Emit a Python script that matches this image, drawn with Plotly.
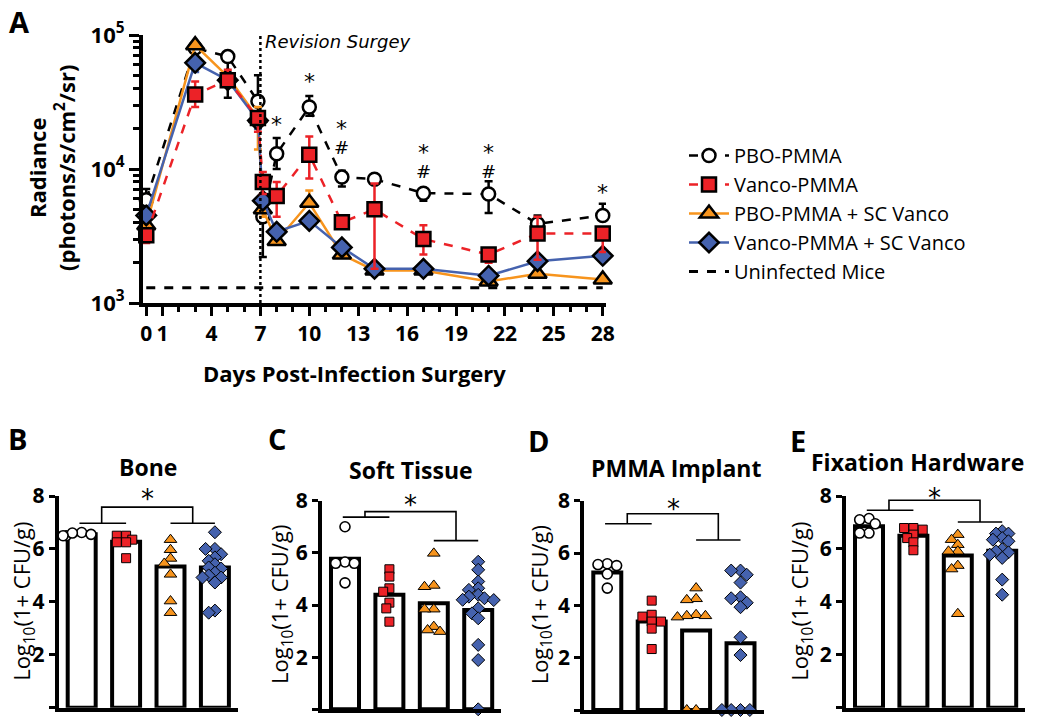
import plotly.graph_objects as go
import math

# ---------------- Panel A data ----------------
DAYS = [0, 3, 5, 6.85, 7.15, 8, 10, 12, 14, 17, 21, 24, 28]
X_TICKS = [0, 1, 4, 7, 10, 13, 16, 19, 22, 25, 28]

PBO_PMMA = [5.9e3, 8.0e4, 6.9e4, 3.2e4, 4.4e3, 1.3e4, 2.9e4, 8.7e3, 8.4e3, 6.6e3, 6.5e3, 3.9e3, 4.5e3]
PBO_PMMA_UP = [1.2e3, 0, 0, 1.8e4, 0, 4.0e3, 6.0e3, 1.0e3, 0.6e3, 0.5e3, 1.6e3, 0.6e3, 1.0e3]
PBO_PMMA_DN = [0, 0, 3.5e4, 0, 2.2e3, 3.0e3, 4.0e3, 1.3e3, 0, 0.8e3, 1.8e3, 0, 0.3e3]

VANCO_PMMA = [3.2e3, 3.6e4, 4.6e4, 2.4e4, 8.0e3, 6.3e3, 1.28e4, 4.0e3, 5.0e3, 3.0e3, 2.3e3, 3.3e3, 3.3e3]
VANCO_PMMA_UP = [0, 9e3, 9e3, 0, 1.5e3, 1.7e3, 4.7e3, 0, 2.8e3, 0.8e3, 0.2e3, 1.1e3, 0]
VANCO_PMMA_DN = [0.4e3, 7e3, 0, 5e3, 1.5e3, 1.9e3, 4.3e3, 0.4e3, 3.2e3, 0.7e3, 0.3e3, 1.2e3, 0.9e3]

PBO_SC = [3.8e3, 8.4e4, 4.9e4, 2.4e4, 5.0e3, 2.9e3, 5.6e3, 2.3e3, 1.75e3, 1.75e3, 1.45e3, 1.65e3, 1.5e3]
PBO_SC_UP = [0, 0, 0, 5e3, 0, 0, 1.3e3, 0, 0, 0, 0, 0, 0]
PBO_SC_DN = [0, 0, 0, 1.0e4, 0.6e3, 0, 0, 0, 0, 0, 0, 0, 0]

VANCO_SC = [4.5e3, 6.2e4, 4.6e4, 2.3e4, 5.8e3, 3.4e3, 4.1e3, 2.6e3, 1.8e3, 1.8e3, 1.6e3, 2.05e3, 2.25e3]
VANCO_SC_UP = [0.5e3, 0, 0, 0, 0, 0, 0, 0, 0, 0, 0, 0, 0]
VANCO_SC_DN = [0, 9e3, 0, 3e3, 0, 0, 0, 0, 0, 0, 0, 0, 0]

UNINFECTED_DAYS = [0, 28]
UNINFECTED_LEVEL = 1.3e3
REVISION_DAY = 7

# significance marks: (day, radiance, text)
SIG_MARKS = [(8, 2.3e4, "*"), (10, 4.8e4, "*"), (12, 2.15e4, "*"), (12, 1.45e4, "#"),
             (17, 1.42e4, "*"), (17, 9.6e3, "#"), (21, 1.42e4, "*"), (21, 9.6e3, "#"),
             (28, 7.2e3, "*")]

# ---------------- Panels B-E data ----------------
GROUPS = ["PBO-PMMA", "Vanco-PMMA", "PBO-PMMA + SC Vanco", "Vanco-PMMA + SC Vanco"]

B_BARS = [6.55, 6.27, 5.34, 5.30]
B_PBO = [6.62, 6.55, 6.5, 6.6, 6.5]
B_VANCO = [6.5, 6.35, 6.5, 6.25, 6.25, 5.65]
B_PBO_SC = [6.35, 5.97, 5.64, 5.45, 5.04, 4.03, 3.59]
B_VANCO_SC = [6.63, 6.0, 6.0, 5.8, 5.68, 5.55, 5.42, 5.3, 5.26, 5.1, 5.0, 4.92, 4.92, 4.73, 3.67, 3.59]

C_BARS = [5.77, 4.39, 4.07, 3.81]
C_PBO = [7.0, 5.65, 5.6, 5.6, 4.85]
C_VANCO = [5.37, 5.09, 4.64, 4.51, 4.09, 3.87, 3.36]
C_PBO_SC = [5.98, 4.75, 4.7, 3.84, 3.84, 3.17, 3.04, 2.98]
C_VANCO_SC = [5.66, 5.35, 4.9, 4.64, 4.58, 4.39, 4.32, 4.26, 4.2, 4.19, 3.87, 3.68, 3.49, 2.47, 1.89, 0.0]

D_BARS = [5.26, 3.38, 3.04, 2.55]
D_PBO = [5.59, 5.56, 5.52, 5.2, 4.66]
D_VANCO = [4.18, 3.64, 3.57, 3.38, 3.38, 3.11, 2.33]
D_PBO_SC = [4.66, 4.25, 4.21, 3.64, 3.6, 3.6, 3.55, 0.0, 0.0]
D_VANCO_SC = [5.33, 5.33, 5.17, 4.87, 4.31, 4.27, 4.1, 3.93, 2.78, 2.1, 0.0, 0.0, 0.0, 0.0]

E_BARS = [6.86, 6.5, 5.75, 5.93]
E_PBO = [7.15, 7.1, 6.95, 6.6, 6.6]
E_VANCO = [6.79, 6.79, 6.73, 6.54, 6.41, 6.25, 5.95]
E_PBO_SC = [6.54, 6.35, 6.16, 5.91, 5.91, 5.37, 5.24, 3.55]
E_VANCO_SC = [6.67, 6.58, 6.58, 6.41, 6.35, 6.29, 5.99, 5.91, 5.87, 5.78, 5.66, 4.84, 4.27]

# bracket heights: left group line, right group line, top line, star
B_BRACKET = [6.97, 6.97, 7.58, 8.1]
C_BRACKET = [7.37, 6.47, 7.58, 8.05]
D_BRACKET = [7.12, 6.5, 7.5, 7.93]
E_BRACKET = [7.46, 7.02, 7.84, 8.14]
Y_MAX = 8

# ---------------- styles ----------------
FONT = "Open Sans"
RED = "#EC2227"
ORANGE = "#F7941D"
BLUE = "#4562AE"
W, H = 1050, 718
STAR_SHIFT = -6  # the asterisk glyph sits high in its text box


def px_x(p):
    return p / W


def px_y(p):
    return 1 - p / H


def paper_note(x, y, text, size, angle=0, family=FONT):
    return dict(x=px_x(x), y=px_y(y), xref="paper", yref="paper", xanchor="center", yanchor="middle",
                text=text, showarrow=False, textangle=angle,
                font=dict(family=family, size=size, color="black"))


fig = go.Figure()

# ---- Panel A traces (draw order: black, orange, blue, red) ----
series = [
    ("PBO-PMMA", PBO_PMMA, PBO_PMMA_UP, PBO_PMMA_DN, "black", "dash",
     dict(symbol="circle", size=13, color="white", line=dict(color="black", width=2.5)), 1),
    ("PBO-PMMA + SC Vanco", PBO_SC, PBO_SC_UP, PBO_SC_DN, ORANGE, "solid",
     dict(symbol="triangle-up", size=16, color=ORANGE, line=dict(color="black", width=2.5)), 3),
    ("Vanco-PMMA + SC Vanco", VANCO_SC, VANCO_SC_UP, VANCO_SC_DN, BLUE, "solid",
     dict(symbol="diamond", size=15, color=BLUE, line=dict(color="black", width=2.5)), 4),
    ("Vanco-PMMA", VANCO_PMMA, VANCO_PMMA_UP, VANCO_PMMA_DN, RED, "dash",
     dict(symbol="square", size=14, color=RED, line=dict(color="black", width=2.5)), 2),
]
for name, vals, up, dn, col, dash, mk, rank in series:
    fig.add_trace(go.Scatter(
        x=DAYS, y=vals, name=name, mode="lines+markers", legendrank=rank,
        line=dict(color=col, width=2.5, dash=dash), marker=mk, cliponaxis=False,
        error_y=dict(type="data", symmetric=False, array=up, arrayminus=dn,
                     color=col, thickness=2.5, width=4),
        xaxis="x", yaxis="y"))

fig.add_trace(go.Scatter(
    x=UNINFECTED_DAYS, y=[UNINFECTED_LEVEL] * len(UNINFECTED_DAYS), name="Uninfected Mice",
    mode="lines", legendrank=5, line=dict(color="black", width=3, dash="dash"),
    xaxis="x", yaxis="y"))
fig.add_trace(go.Scatter(
    x=[REVISION_DAY, REVISION_DAY], y=[1e3, 1e5], mode="lines", showlegend=False,
    line=dict(color="black", width=2.5, dash="dot"), xaxis="x", yaxis="y"))

annotations = []
for d, v, t in SIG_MARKS:
    annotations.append(dict(x=d, y=math.log10(v), xref="x", yref="y", text=t, showarrow=False,
                            xanchor="center", yanchor="middle",
                            yshift=STAR_SHIFT + 2 if t == "*" else 0,
                            font=dict(family="DejaVu Sans", size=22 if t == "*" else 18, color="black")))
annotations.append(dict(x=REVISION_DAY + 0.15, y=math.log10(9.0e4), xref="x", yref="y",
                        text="<i>Revision Surgey</i>", showarrow=False, xanchor="left", yanchor="middle",
                        font=dict(family="DejaVu Sans", size=18, color="black")))

AX_COMMON = dict(showgrid=False, zeroline=False, automargin=False, linecolor="black", tickcolor="black")

# ---- Panel A axes ----
fig.update_layout(
    xaxis=dict(domain=[px_x(143), px_x(606)], anchor="y", range=[-0.2, 28.2],
               tickvals=X_TICKS, ticktext=[str(t) for t in X_TICKS],
               ticks="outside", ticklen=9, tickwidth=3,
               showline=True, linewidth=4,
               tickfont=dict(family=FONT, size=21, color="black", weight="bold"),
               minor=dict(dtick=1, tick0=0, ticks="outside", ticklen=5, tickwidth=3, tickcolor="black"),
               **AX_COMMON),
    yaxis=dict(domain=[px_y(303), px_y(35)], anchor="x", type="log", range=[3, 5],
               tickvals=[1e3, 1e4, 1e5], ticktext=["10<sup>3</sup>", "10<sup>4</sup>", "10<sup>5</sup>"],
               ticks="outside", ticklen=10, tickwidth=3,
               showline=True, linewidth=4,
               tickfont=dict(family=FONT, size=22, color="black", weight="bold"),
               minor=dict(tickvals=[k * 10 ** e for e in (3, 4) for k in range(2, 10)],
                          ticks="outside", ticklen=6, tickwidth=2.5, tickcolor="black"),
               **AX_COMMON),
)
annotations.append(paper_note(51, 168, "<b>Radiance<br>(photons/s/cm<sup>2</sup>/sr)</b>", 22, -90))
annotations.append(paper_note(354, 373, "<b>Days Post-Infection Surgery</b>", 22))
annotations.append(paper_note(19, 22, "<b>A</b>", 29))


# ---- Panels B-E ----
def swarm(values, min_px=6.5, xscale=44.4, yscale=26.4, step=0.07):
    placed = []
    order = sorted(range(len(values)), key=lambda i: -values[i])
    offs = [0.0] * len(values)
    for i in order:
        v = values[i]
        cand = 0.0
        for k in range(0, 12):
            cand = 0.0 if k == 0 else ((k + 1) // 2) * step * (-1 if k % 2 else 1)
            ok = all(((cand - ox) * xscale) ** 2 + ((v - oy) * yscale) ** 2 >= min_px ** 2
                     for ox, oy in placed)
            if ok:
                break
        offs[i] = cand
        placed.append((cand, v))
    return offs


point_styles = [
    dict(symbol="circle", size=10, color="white", line=dict(color="black", width=1.6)),
    dict(symbol="square", size=9, color=RED, line=dict(color="black", width=1)),
    dict(symbol="triangle-up", size=11, color=ORANGE, line=dict(color="black", width=1)),
    dict(symbol="diamond", size=10, color=BLUE, line=dict(color="black", width=1)),
]

panels = [
    ("B", "Bone", B_BARS, [B_PBO, B_VANCO, B_PBO_SC, B_VANCO_SC], B_BRACKET,
     (58.6, 238.0), (496, 707.7), (148, 467), (17, 438), 23),
    ("C", "Soft Tissue", C_BARS, [C_PBO, C_VANCO, C_PBO_SC, C_VANCO_SC], C_BRACKET,
     (321.9, 501.3), (500.7, 709.3), (411, 470), (277, 438), 281),
    ("D", "PMMA Implant", D_BARS, [D_PBO, D_VANCO, D_PBO_SC, D_VANCO_SC], D_BRACKET,
     (584.2, 763.6), (500.7, 710), (676, 468), (538, 440), 541),
    ("E", "Fixation Hardware", E_BARS, [E_PBO, E_VANCO, E_PBO_SC, E_VANCO_SC], E_BRACKET,
     (845.9, 1025.3), (496, 707.7), (917, 462), (798, 440), 801),
]

for idx, (letter, title, bars, pts, br, xd, yd, tpos, lpos, ytx) in enumerate(panels):
    n = idx + 2
    xa, ya = f"x{n}", f"y{n}"
    fig.add_trace(go.Bar(x=list(range(len(bars))), y=bars, width=0.63, showlegend=False,
                         marker=dict(color="white", line=dict(color="black", width=4)),
                         xaxis=xa, yaxis=ya))
    for g, vals in enumerate(pts):
        offs = swarm(vals)
        fig.add_trace(go.Scatter(x=[g + o for o in offs], y=vals, mode="markers", showlegend=False,
                                 marker=point_styles[g], cliponaxis=False, xaxis=xa, yaxis=ya))
    left_y, right_y, top_y, star_y = br
    for xs, ys in [([-0.05, 1.0], [left_y, left_y]), ([2.0, 3.0], [right_y, right_y]),
                   ([0.45, 0.45, 2.5, 2.5], [left_y, top_y, top_y, right_y])]:
        fig.add_trace(go.Scatter(x=xs, y=ys, mode="lines", showlegend=False,
                                 line=dict(color="black", width=1.6), xaxis=xa, yaxis=ya))
    annotations.append(dict(x=1.48, y=star_y / Y_MAX, xref=xa, yref=f"{ya} domain", text="*",
                            showarrow=False, xanchor="center", yanchor="middle", yshift=STAR_SHIFT,
                            font=dict(family="DejaVu Sans", size=26, color="black")))
    fig.layout[f"xaxis{n}"] = dict(domain=[px_x(xd[0]), px_x(xd[1])], anchor=ya, range=[-0.52, 3.52],
                                   showline=True, linewidth=4, ticks="", showticklabels=False,
                                   **AX_COMMON)
    fig.layout[f"yaxis{n}"] = dict(domain=[px_y(yd[1]), px_y(yd[0])], anchor=xa, range=[0, Y_MAX],
                                   tickvals=[0, 2, 4, 6, 8], ticks="outside", ticklen=6, tickwidth=3,
                                   showline=True, linewidth=4,
                                   tickfont=dict(family=FONT, size=21, color="black", weight="bold"),
                                   **AX_COMMON)
    annotations.append(paper_note(tpos[0], tpos[1], f"<b>{title}</b>", 23))
    annotations.append(paper_note(lpos[0], lpos[1], f"<b>{letter}</b>", 29))
    annotations.append(paper_note(ytx, (yd[0] + yd[1]) / 2, "Log<sub>10</sub>(1+ CFU/g)", 22, -90))

fig.update_layout(
    template="none",
    width=W, height=H, margin=dict(l=0, r=0, t=0, b=0, autoexpand=False),
    paper_bgcolor="white", plot_bgcolor="white", bargap=0.3,
    annotations=annotations,
    legend=dict(x=px_x(684), y=px_y(136), xanchor="left", yanchor="top",
                font=dict(family=FONT, size=20, color="black"), bgcolor="rgba(0,0,0,0)",
                tracegroupgap=0, itemwidth=40),
)

fig.write_html("out.html", config={"displayModeBar": False},
               post_script="document.body.style.margin='0px';document.body.style.padding='0px';"
                           "document.body.style.overflow='hidden';")
